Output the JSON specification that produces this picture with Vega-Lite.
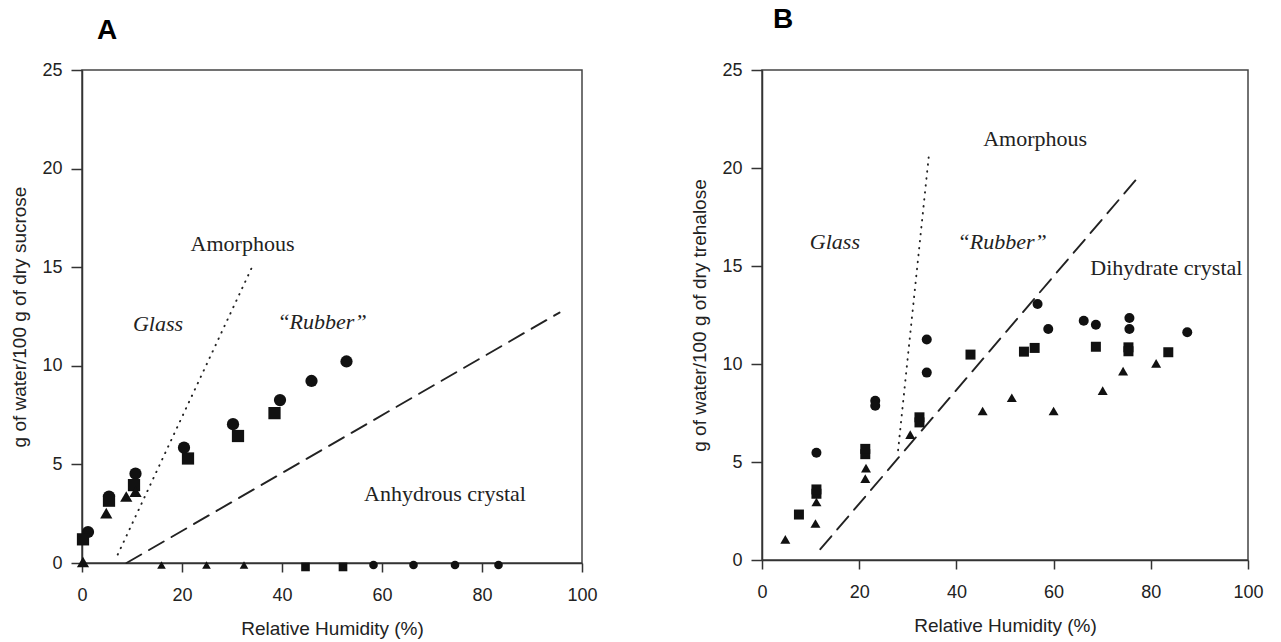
{
  "$schema": "https://vega.github.io/schema/vega-lite/v6.json",
  "background": "white",
  "padding": {"left": 10, "top": 5, "right": 5, "bottom": 5},
  "bounds": "flush",
  "spacing": 180,
  "config": {
    "view": {"stroke": "#444", "strokeWidth": 1.5},
    "axis": {
      "grid": false,
      "domainColor": "#333",
      "domainWidth": 1.5,
      "tickColor": "#333",
      "tickWidth": 1.5,
      "tickSize": 9,
      "labelFont": "Liberation Sans",
      "labelFontSize": 18,
      "labelColor": "#222",
      "labelPadding": 8,
      "labelFlush": false,
      "titleFont": "Liberation Sans",
      "titleFontSize": 19,
      "titleFontWeight": "normal",
      "titleColor": "#222",
      "titlePadding": 12
    },
    "axisX": {"labelPadding": 14, "titlePadding": 15},
    "axisY": {"tickSize": 11, "labelPadding": 9},
    "title": {"font": "Liberation Sans", "fontSize": 28, "fontWeight": "bold", "color": "#000", "anchor": "start", "frame": "group"}
  },
  "datasets": {
    "sucroseSorption": [
      {"run": "1", "form": "amorphous", "rh": 1.2, "water": 1.57},
      {"run": "1", "form": "amorphous", "rh": 5.4, "water": 3.37},
      {"run": "1", "form": "amorphous", "rh": 10.7, "water": 4.53},
      {"run": "1", "form": "amorphous", "rh": 20.4, "water": 5.85},
      {"run": "1", "form": "amorphous", "rh": 30.2, "water": 7.04},
      {"run": "1", "form": "amorphous", "rh": 39.6, "water": 8.26},
      {"run": "1", "form": "amorphous", "rh": 45.9, "water": 9.23},
      {"run": "1", "form": "amorphous", "rh": 52.9, "water": 10.22},
      {"run": "1", "form": "crystalline", "rh": 58.3, "water": -0.1},
      {"run": "1", "form": "crystalline", "rh": 66.3, "water": -0.1},
      {"run": "1", "form": "crystalline", "rh": 74.6, "water": -0.1},
      {"run": "1", "form": "crystalline", "rh": 83.3, "water": -0.1},
      {"run": "2", "form": "amorphous", "rh": 0.2, "water": 1.2},
      {"run": "2", "form": "amorphous", "rh": 5.4, "water": 3.16},
      {"run": "2", "form": "amorphous", "rh": 10.4, "water": 3.95},
      {"run": "2", "form": "amorphous", "rh": 21.2, "water": 5.3},
      {"run": "2", "form": "amorphous", "rh": 31.2, "water": 6.44},
      {"run": "2", "form": "amorphous", "rh": 38.5, "water": 7.6},
      {"run": "2", "form": "crystalline", "rh": 44.7, "water": -0.2},
      {"run": "2", "form": "crystalline", "rh": 52.2, "water": -0.2},
      {"run": "3", "form": "amorphous", "rh": 0.2, "water": 0.05},
      {"run": "3", "form": "amorphous", "rh": 4.85, "water": 2.53},
      {"run": "3", "form": "amorphous", "rh": 8.85, "water": 3.37},
      {"run": "3", "form": "amorphous", "rh": 10.7, "water": 3.62},
      {"run": "3", "form": "crystalline", "rh": 15.9, "water": -0.1},
      {"run": "3", "form": "crystalline", "rh": 24.9, "water": -0.1},
      {"run": "3", "form": "crystalline", "rh": 32.4, "water": -0.1}
    ],
    "trehaloseSorption": [
      {"run": "1", "rh": 11.2, "water": 5.47},
      {"run": "1", "rh": 23.3, "water": 8.12},
      {"run": "1", "rh": 23.3, "water": 7.87},
      {"run": "1", "rh": 33.9, "water": 11.25},
      {"run": "1", "rh": 33.9, "water": 9.56},
      {"run": "1", "rh": 56.7, "water": 13.06},
      {"run": "1", "rh": 58.9, "water": 11.79},
      {"run": "1", "rh": 66.2, "water": 12.21},
      {"run": "1", "rh": 68.7, "water": 12.0},
      {"run": "1", "rh": 75.6, "water": 12.35},
      {"run": "1", "rh": 75.6, "water": 11.79},
      {"run": "1", "rh": 87.5, "water": 11.62},
      {"run": "2", "rh": 7.6, "water": 2.32},
      {"run": "2", "rh": 11.2, "water": 3.38},
      {"run": "2", "rh": 11.2, "water": 3.6},
      {"run": "2", "rh": 21.25, "water": 5.4},
      {"run": "2", "rh": 21.25, "water": 5.67},
      {"run": "2", "rh": 32.4, "water": 7.28},
      {"run": "2", "rh": 32.4, "water": 7.02},
      {"run": "2", "rh": 42.9, "water": 10.48},
      {"run": "2", "rh": 53.9, "water": 10.63},
      {"run": "2", "rh": 56.1, "water": 10.82},
      {"run": "2", "rh": 68.7, "water": 10.88},
      {"run": "2", "rh": 75.4, "water": 10.85},
      {"run": "2", "rh": 75.4, "water": 10.65},
      {"run": "2", "rh": 83.6, "water": 10.6},
      {"run": "3", "rh": 4.8, "water": 1.05},
      {"run": "3", "rh": 11.0, "water": 1.86},
      {"run": "3", "rh": 11.2, "water": 2.96},
      {"run": "3", "rh": 21.25, "water": 4.15},
      {"run": "3", "rh": 21.4, "water": 4.69},
      {"run": "3", "rh": 30.5, "water": 6.4},
      {"run": "3", "rh": 45.4, "water": 7.6},
      {"run": "3", "rh": 51.4, "water": 8.28},
      {"run": "3", "rh": 60.0, "water": 7.6},
      {"run": "3", "rh": 70.1, "water": 8.64},
      {"run": "3", "rh": 74.3, "water": 9.64},
      {"run": "3", "rh": 81.1, "water": 10.03}
    ],
    "sucroseBoundaries": [
      {"boundary": "glass transition", "rh": 7.15, "water": 0.43},
      {"boundary": "glass transition", "rh": 34.0, "water": 15.0},
      {"boundary": "crystallization", "rh": 8.9, "water": 0.0},
      {"boundary": "crystallization", "rh": 95.5, "water": 12.7}
    ],
    "trehaloseBoundaries": [
      {"boundary": "glass transition", "rh": 28.0, "water": 5.6},
      {"boundary": "glass transition", "rh": 34.4, "water": 20.8},
      {"boundary": "crystallization", "rh": 12.0, "water": 0.55},
      {"boundary": "crystallization", "rh": 77.3, "water": 19.5}
    ],
    "sucroseRegions": [
      {"label": "Glass", "rh": 15.2, "water": 12.1},
      {"label": "“Rubber”", "rh": 48.0, "water": 12.2}
    ],
    "sucrosePhases": [
      {"label": "Amorphous", "rh": 32.1, "water": 16.2},
      {"label": "Anhydrous crystal", "rh": 72.6, "water": 3.5}
    ],
    "trehaloseRegions": [
      {"label": "Glass", "rh": 15.0, "water": 16.25},
      {"label": "“Rubber”", "rh": 49.4, "water": 16.2}
    ],
    "trehalosePhases": [
      {"label": "Amorphous", "rh": 56.2, "water": 21.5},
      {"label": "Dihydrate crystal", "rh": 83.2, "water": 14.9}
    ]
  },
  "hconcat": [
    {
      "width": 500,
      "height": 493,
      "title": {"text": "A", "offset": 16, "dx": 15},
      "encoding": {
        "x": {"field": "rh", "type": "quantitative", "scale": {"domain": [0, 100], "nice": false}, "axis": {"title": "Relative Humidity (%)", "values": [0, 20, 40, 60, 80, 100]}},
        "y": {"field": "water", "type": "quantitative", "scale": {"domain": [0, 25], "nice": false}, "axis": {"title": "g of water/100 g of dry sucrose", "values": [0, 5, 10, 15, 20, 25]}}
      },
      "layer": [
        {
          "data": {"name": "sucroseBoundaries"},
          "mark": {"type": "line", "color": "#222", "strokeWidth": 1.9, "strokeCap": "round"},
          "encoding": {
            "detail": {"field": "boundary", "type": "nominal"},
            "strokeDash": {"field": "boundary", "type": "nominal", "scale": {"domain": ["glass transition", "crystallization"], "range": [[0.5, 6.5], [17, 9]]}, "legend": null}
          }
        },
        {
          "data": {"name": "sucroseSorption"},
          "mark": {"type": "point", "filled": true, "opacity": 1, "color": "#111"},
          "encoding": {
            "shape": {"field": "run", "type": "nominal", "scale": {"domain": ["1", "2", "3"], "range": ["circle", "square", "triangle-up"]}, "legend": null},
            "size": {"field": "form", "type": "ordinal", "scale": {"domain": ["amorphous", "crystalline"], "range": [150, 75]}, "legend": null}
          }
        },
        {
          "data": {"name": "sucroseRegions"},
          "mark": {"type": "text", "font": "Liberation Serif", "fontSize": 22, "fontStyle": "italic", "color": "#222", "align": "center", "baseline": "middle"},
          "encoding": {"text": {"field": "label"}}
        },
        {
          "data": {"name": "sucrosePhases"},
          "mark": {"type": "text", "font": "Liberation Serif", "fontSize": 22, "color": "#222", "align": "center", "baseline": "middle"},
          "encoding": {"text": {"field": "label"}}
        }
      ]
    },
    {
      "width": 486,
      "height": 490,
      "title": {"text": "B", "offset": 27, "dx": 11},
      "encoding": {
        "x": {"field": "rh", "type": "quantitative", "scale": {"domain": [0, 100], "nice": false}, "axis": {"title": "Relative Humidity (%)", "values": [0, 20, 40, 60, 80, 100]}},
        "y": {"field": "water", "type": "quantitative", "scale": {"domain": [0, 25], "nice": false}, "axis": {"title": "g of water/100 g of dry trehalose", "values": [0, 5, 10, 15, 20, 25]}}
      },
      "layer": [
        {
          "data": {"name": "trehaloseBoundaries"},
          "mark": {"type": "line", "color": "#222", "strokeWidth": 1.9, "strokeCap": "round"},
          "encoding": {
            "detail": {"field": "boundary", "type": "nominal"},
            "strokeDash": {"field": "boundary", "type": "nominal", "scale": {"domain": ["glass transition", "crystallization"], "range": [[0.5, 7.5], [26, 20]]}, "legend": null}
          }
        },
        {
          "data": {"name": "trehaloseSorption"},
          "mark": {"type": "point", "filled": true, "opacity": 1, "color": "#111", "size": 100},
          "encoding": {
            "shape": {"field": "run", "type": "nominal", "scale": {"domain": ["1", "2", "3"], "range": ["circle", "square", "triangle-up"]}, "legend": null}
          }
        },
        {
          "data": {"name": "trehaloseRegions"},
          "mark": {"type": "text", "font": "Liberation Serif", "fontSize": 22, "fontStyle": "italic", "color": "#222", "align": "center", "baseline": "middle"},
          "encoding": {"text": {"field": "label"}}
        },
        {
          "data": {"name": "trehalosePhases"},
          "mark": {"type": "text", "font": "Liberation Serif", "fontSize": 22, "color": "#222", "align": "center", "baseline": "middle"},
          "encoding": {"text": {"field": "label"}}
        }
      ]
    }
  ]
}
